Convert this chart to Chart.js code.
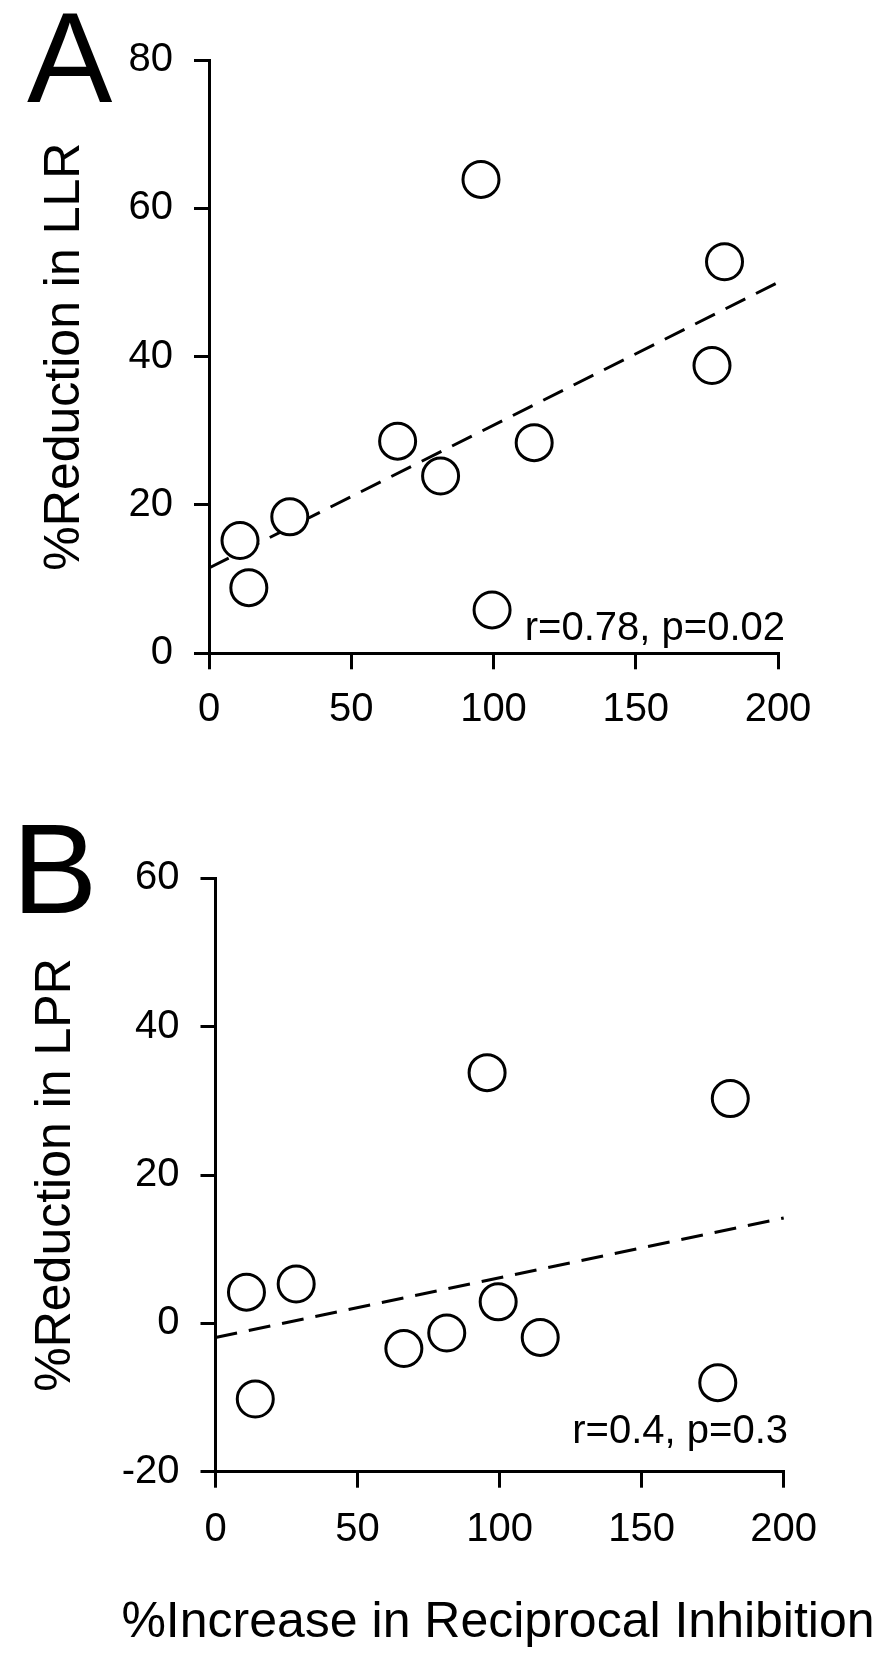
<!DOCTYPE html>
<html>
<head>
<meta charset="utf-8">
<script src="https://cdn.jsdelivr.net/npm/chart.js@4.4.1/dist/chart.umd.min.js"></script>
<style>
  html, body { margin: 0; padding: 0; background: #fff; }
  body { width: 896px; height: 1654px; position: relative; overflow: hidden; }
  canvas { position: absolute; left: 0; }
  #cA { top: 0; }
  #cB { top: 800px; }
</style>
</head>
<body>
<canvas id="cA" width="896" height="800"></canvas>
<canvas id="cB" width="896" height="854"></canvas>
<script>
// ---- data ----
const increaseRI = [10.9, 14.0, 28.4, 66.3, 81.4, 95.6, 99.5, 114.3, 176.8, 181.2];
const reductionLLR = [15.2, 8.85, 18.4, 28.6, 23.9, 63.9, 5.85, 28.4, 38.8, 52.8];
const reductionLPR = [4.2, -10.2, 5.3, -3.4, -1.3, 33.8, 2.9, -1.9, -8.0, 30.3];
const fitX = [0, 200];
const fitLLR = [11.5, 50.0];
const fitLPR = [-1.9, 14.2];
const xTicks = [0, 50, 100, 150, 200];
const yTicksA = [0, 20, 40, 60, 80];
const yTicksB = [-20, 0, 20, 40, 60];
const statA = 'r=0.78, p=0.02';
const statB = 'r=0.4, p=0.3';
const panelA = 'A';
const panelB = 'B';
const yTitleA = '%Reduction in LLR';
const yTitleB = '%Reduction in LPR';
const xTitle = '%Increase in Reciprocal Inhibition';

const FONT = '"Liberation Sans", Arial, Helvetica, sans-serif';

function pts(xs, ys) { return xs.map((x, i) => ({ x: x, y: ys[i] })); }

function makeChart(canvasId, cfg) {
  const annot = {
    id: 'annot' + canvasId,
    afterDraw(chart) {
      const ctx = chart.ctx;
      ctx.save();
      ctx.fillStyle = '#000';
      ctx.textBaseline = 'alphabetic';
      ctx.textAlign = 'left';
      ctx.font = '128px ' + FONT;
      ctx.fillText(cfg.panel, cfg.panelX, cfg.panelY);
      ctx.textAlign = 'right';
      ctx.font = '40px ' + FONT;
      ctx.fillText(cfg.stat, cfg.statX, cfg.statY);
      if (cfg.xTitle) {
        ctx.textAlign = 'center';
        ctx.font = '50px ' + FONT;
        ctx.fillText(cfg.xTitle, cfg.xTitleX, cfg.xTitleY);
      }
      ctx.restore();
    }
  };
  const xScale = {
    type: 'linear',
    min: 0, max: 200,
    afterBuildTicks: s => { s.ticks = xTicks.map(v => ({ value: v })); },
    afterFit: s => { s.height = cfg.xHeight; },
    grid: { drawOnChartArea: false, drawTicks: true, tickLength: 16, color: '#000', lineWidth: 3, tickWidth: 3, tickColor: '#000' },
    border: { display: true, color: '#000', width: 3 },
    ticks: { color: '#000', padding: cfg.xPad, font: { family: FONT, size: 40, lineHeight: 1.2 }, maxRotation: 0, autoSkip: false },
    title: { display: false }
  };
  const yScale = {
    type: 'linear',
    min: cfg.yTicks[0], max: cfg.yTicks[cfg.yTicks.length - 1],
    afterBuildTicks: s => { s.ticks = cfg.yTicks.map(v => ({ value: v })); },
    afterFit: s => { s.width = cfg.yWidth; },
    grid: { drawOnChartArea: false, drawTicks: true, tickLength: 15, color: '#000', lineWidth: 3, tickWidth: 3, tickColor: '#000' },
    border: { display: true, color: '#000', width: 3 },
    ticks: { color: '#000', padding: 21, font: { family: FONT, size: 40, lineHeight: 1.2 }, autoSkip: false },
    title: { display: true, text: cfg.yTitle, color: '#000', font: { family: FONT, size: 50, lineHeight: 1 }, padding: { top: cfg.yTitlePad, bottom: 0 } }
  };
  return new Chart(document.getElementById(canvasId), {
    type: 'scatter',
    data: {
      datasets: [
        {
          label: 'subjects',
          data: pts(increaseRI, cfg.y),
          order: 1,
          pointStyle: 'circle',
          pointRadius: 18,
          pointHoverRadius: 18,
          pointBorderWidth: 3,
          pointHoverBorderWidth: 3,
          borderColor: '#000',
          backgroundColor: '#fff',
          clip: false
        },
        {
          label: 'fit',
          type: 'line',
          data: pts(fitX, cfg.fit),
          order: 2,
          showLine: true,
          borderColor: '#000',
          borderWidth: 3,
          borderDash: [22, 12],
          pointRadius: 0,
          fill: false,
          tension: 0,
          clip: false
        }
      ]
    },
    options: {
      responsive: false,
      devicePixelRatio: 1,
      animation: false,
      events: [],
      layout: { padding: cfg.padding },
      plugins: { legend: { display: false }, tooltip: { enabled: false }, title: { display: false } },
      scales: { x: xScale, y: yScale }
    },
    plugins: [annot]
  });
}

makeChart('cA', {
  y: reductionLLR, fit: fitLLR, yTicks: yTicksA,
  yTitle: yTitleA, yTitlePad: 40, yWidth: 209,
  xTitle: null, xHeight: 146.7, xPad: 17,
  padding: { left: 0, top: 60, right: 118, bottom: 0 },
  panel: panelA, panelX: 27, panelY: 102,
  stat: statA, statX: 785, statY: 640
});

makeChart('cB', {
  y: reductionLPR, fit: fitLPR, yTicks: yTicksB,
  yTitle: yTitleB, yTitlePad: 31, yWidth: 215.5,
  xTitle: xTitle, xTitleX: 498, xTitleY: 836.7, xHeight: 182.3, xPad: 18,
  padding: { left: 0, top: 78.3, right: 112.3, bottom: 0 },
  panel: panelB, panelX: 12, panelY: 113,
  stat: statB, statX: 788, statY: 643.3
});
</script>
</body>
</html>
